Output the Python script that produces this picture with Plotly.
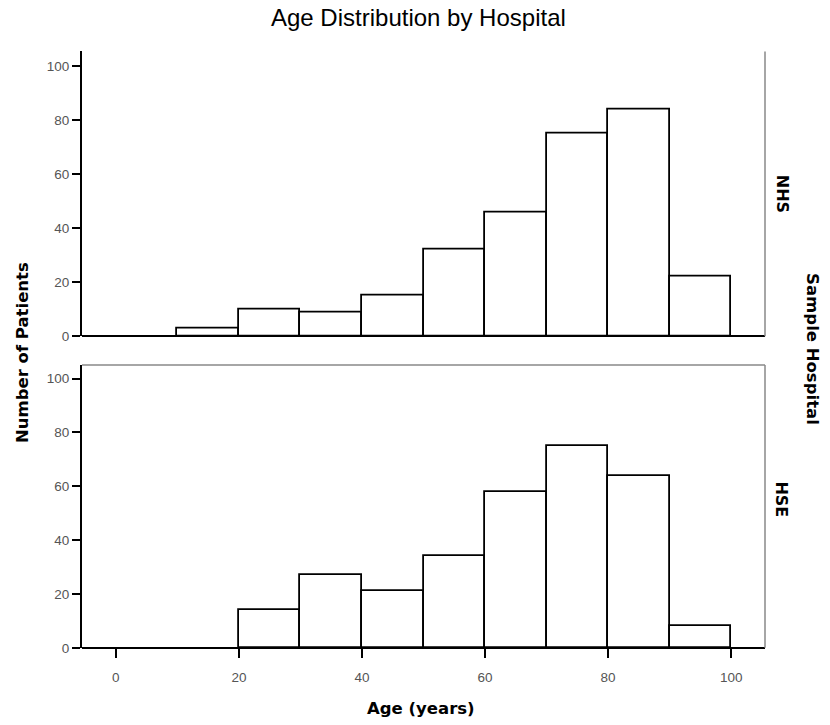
import plotly.graph_objects as go

bin_centers = [5, 15, 25, 35, 45, 55, 65, 75, 85, 95]
nhs_counts = [0, 3, 10, 9, 15, 32, 46, 75, 84, 22]
hse_counts = [0, 0, 14, 27, 21, 34, 58, 75, 64, 8]
x_ticks = [0, 20, 40, 60, 80, 100]
y_ticks = [0, 20, 40, 60, 80, 100]

W, H = 830, 725
xl, xr = 82, 765
top_t, top_b = 52, 340
bot_t, bot_b = 369, 655

def py(p):
    return 1 - p / H

def nz(vals):
    return [v if v != 0 else None for v in vals]

fig = go.Figure()
bar_style = dict(marker=dict(color="white", line=dict(color="black", width=1.8)), width=10, showlegend=False)
fig.add_trace(go.Bar(x=bin_centers, y=nz(nhs_counts), xaxis="x", yaxis="y", **bar_style))
fig.add_trace(go.Bar(x=bin_centers, y=nz(hse_counts), xaxis="x2", yaxis="y2", **bar_style))

font = "Liberation Sans, Arial, sans-serif"
bold_font = "DejaVu Sans, Verdana, sans-serif"
tickfont = dict(size=13.5, color="#555", family=font)
common_x = dict(range=[-5.5, 105.5], domain=[xl / W, xr / W], showgrid=False, zeroline=False,
                showline=False, tickvals=x_ticks, tickfont=tickfont)
common_y = dict(showgrid=False, zeroline=True, zerolinecolor="black", zerolinewidth=2.4,
                showline=True, linecolor="black", linewidth=2.2,
                ticks="outside", ticklen=8, tickwidth=1.5, tickcolor="black", tickvals=y_ticks,
                tickfont=tickfont)

def ann(text, x, y, size, fam, angle=0):
    return dict(text=text, x=x / W, y=py(y), xref="paper", yref="paper", xanchor="center",
                yanchor="middle", showarrow=False, textangle=angle,
                font=dict(size=size, color="black", family=fam))

fig.update_layout(
    width=W, height=H, margin=dict(l=0, r=0, t=0, b=0),
    plot_bgcolor="white", paper_bgcolor="white", bargap=0,
    xaxis=dict(**common_x, anchor="y", showticklabels=False, ticks=""),
    yaxis=dict(**common_y, range=[0, 105.5], domain=[py(top_b), py(top_t)], anchor="x"),
    xaxis2=dict(**common_x, anchor="y2", ticks="outside", ticklen=9, tickwidth=2, tickcolor="black",
                ticklabelstandoff=8),
    yaxis2=dict(**common_y, range=[0, 105.1], domain=[py(bot_b), py(bot_t)], anchor="x2"),
    shapes=[
        dict(type="line", xref="paper", yref="paper", x0=xr / W, x1=xr / W, y0=py(top_b), y1=py(top_t),
             line=dict(color="#888", width=1.5)),
        dict(type="line", xref="paper", yref="paper", x0=xr / W, x1=xr / W, y0=py(bot_b), y1=py(bot_t),
             line=dict(color="#888", width=1.5)),
        dict(type="line", xref="paper", yref="paper", x0=xl / W, x1=xr / W, y0=py(bot_t), y1=py(bot_t),
             line=dict(color="#888", width=1.5)),
    ],
    annotations=[
        ann("Age Distribution by Hospital", 418, 18, 24, font),
        ann("<b>Age (years)</b>", 421, 716, 16.5, bold_font),
        ann("<b>Number of Patients</b>", 22, 357, 16.5, bold_font, -90),
        ann("<b>Sample Hospital</b>", 813, 353, 16.5, bold_font, 90),
        ann("<b>NHS</b>", 782, 196, 16, bold_font, 90),
        ann("<b>HSE</b>", 782, 505, 16, bold_font, 90),
    ],
)

fig.write_html("out.html")
